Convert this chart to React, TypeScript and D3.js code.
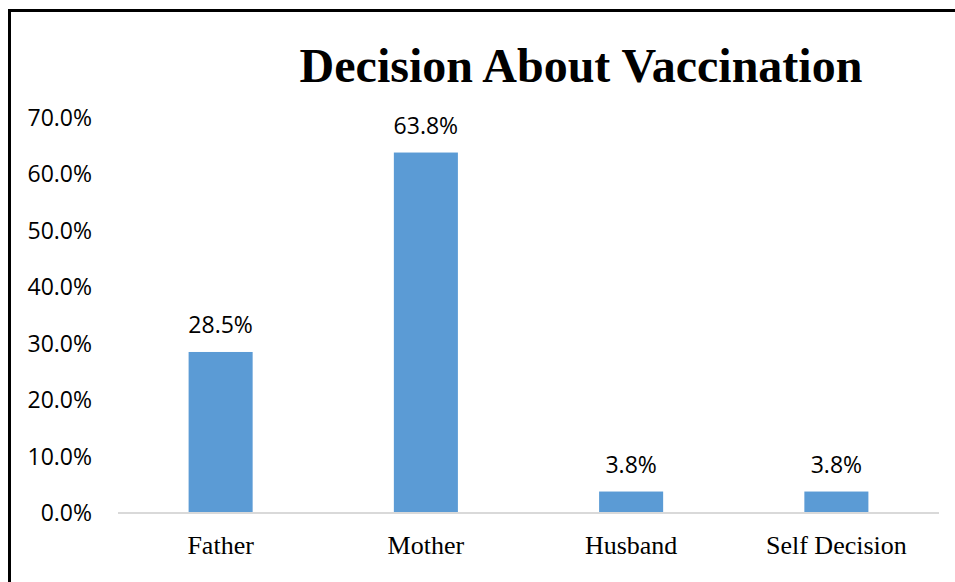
import React from "react";
import * as d3 from "d3";

const categories = ["Father", "Mother", "Husband", "Self Decision"];
const values = [0.285, 0.638, 0.038, 0.038];
const yTicks = [0, 0.1, 0.2, 0.3, 0.4, 0.5, 0.6, 0.7];
const title = "Decision About Vaccination";

const W = 955;
const H = 582;
const left = 118;
const right = 939;
const baseY = 513;
const topY = 117.5;

export default function App() {
  const x = d3
    .scaleBand<string>()
    .domain(categories)
    .range([left, right])
    .paddingInner(0.688)
    .paddingOuter(0.344);
  const y = d3.scaleLinear().domain([0, 0.7]).range([baseY, topY]);
  const fmt = d3.format(".1%");
  const sans = "'Open Sans', sans-serif";
  const serif = "'Liberation Serif', 'Times New Roman', serif";

  return (
    <svg
      width={W}
      height={H}
      style={{ position: "absolute", left: 0, top: 0, background: "#fff" }}
    >
      <rect x={0} y={0} width={W} height={H} fill="#fff" />
      <rect x={9.5} y={10.5} width={2000} height={2000} fill="none" stroke="#000" strokeWidth={3} />
      <text x={581} y={82} textAnchor="middle" fontFamily={serif} fontWeight="bold" fontSize={48} fill="#000">
        {title}
      </text>
      {yTicks.map((t) => (
        <text
          key={t}
          x={92}
          y={y(t)}
          dy="0.35em"
          textAnchor="end"
          fontFamily={sans}
          fontSize={23}
          fill="#000"
        >
          {fmt(t)}
        </text>
      ))}
      {categories.map((c, i) => (
        <g key={c}>
          <rect
            x={x(c)}
            y={y(values[i])}
            width={x.bandwidth()}
            height={baseY - y(values[i])}
            fill="#5B9BD5"
          />
          <text
            x={(x(c) as number) + x.bandwidth() / 2}
            y={y(values[i]) - 19}
            textAnchor="middle"
            fontFamily={sans}
            fontSize={23}
            fill="#000"
          >
            {fmt(values[i])}
          </text>
          <text
            x={(x(c) as number) + x.bandwidth() / 2}
            y={554}
            textAnchor="middle"
            fontFamily={serif}
            fontSize={26}
            fill="#000"
          >
            {c}
          </text>
        </g>
      ))}
      <line x1={left} x2={right} y1={baseY} y2={baseY} stroke="#D9D9D9" strokeWidth={2} />
    </svg>
  );
}
